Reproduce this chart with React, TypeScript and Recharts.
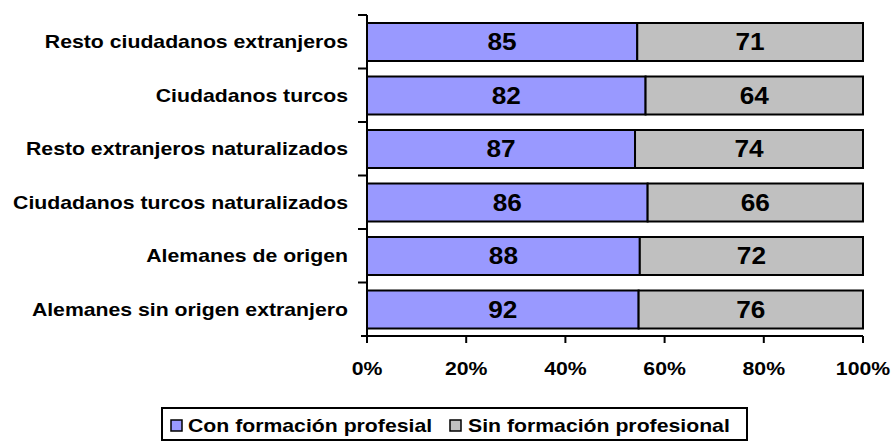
import React from 'react'
import {
  BarChart,
  Bar,
  XAxis,
  YAxis,
  Legend,
  LabelList,
} from 'recharts'

// categories, top to bottom
const categories = [
  'Resto ciudadanos extranjeros',
  'Ciudadanos turcos',
  'Resto extranjeros naturalizados',
  'Ciudadanos turcos naturalizados',
  'Alemanes de origen',
  'Alemanes sin origen extranjero',
]
const conFormacion = [85, 82, 87, 86, 88, 92]
const sinFormacion = [71, 64, 74, 66, 72, 76]
const pctTicks = [0, 0.2, 0.4, 0.6, 0.8, 1]

const seriesNames = {
  con: 'Con formación profesial',
  sin: 'Sin formación profesional',
}

const W = 892
const H = 442
const MARGIN = { top: 15, right: 29, left: 0, bottom: 66 }
const X_AXIS_H = 40
const Y_AXIS_W = 367
const FONT = 'Arial, "Liberation Sans", Helvetica, sans-serif'
const SX = 1.18 // the source text is a bit stretched horizontally

const data = categories.map((name, i) => ({
  name,
  con: conFormacion[i],
  sin: sinFormacion[i],
}))

const plotH = H - MARGIN.top - MARGIN.bottom - X_AXIS_H
const band = plotH / categories.length

const CategoryTick = (props: any) => {
  const { x, y, payload, index } = props
  const axisX = x + 19
  const half = band / 2
  return (
    <g>
      <line x1={axisX - 9} x2={axisX} y1={y - half} y2={y - half} stroke="#000" strokeWidth={2} />
      {index === categories.length - 1 && (
        <line x1={axisX - 6} x2={axisX} y1={y + half} y2={y + half} stroke="#000" strokeWidth={2} />
      )}
      <text
        transform={`translate(${x},${y}) scale(${SX},1)`}
        dy="0.36em"
        textAnchor="end"
        fontFamily={FONT}
        fontWeight="bold"
        fontSize={18}
        fill="#000"
      >
        {payload.value}
      </text>
    </g>
  )
}

const PctTick = (props: any) => {
  const { x, y, payload } = props
  return (
    <text
      transform={`translate(${x},${y + 32}) scale(${SX},1)`}
      textAnchor="middle"
      fontFamily={FONT}
      fontWeight="bold"
      fontSize={18}
      fill="#000"
    >
      {`${Math.round(payload.value * 100)}%`}
    </text>
  )
}

const BarValue = (props: any) => {
  const { x, y, width, height, value } = props
  const cx = x + width / 2
  const cy = y + height / 2
  return (
    <text
      transform={`translate(${cx},${cy}) scale(1.14,1)`}
      dy="0.36em"
      textAnchor="middle"
      fontFamily={FONT}
      fontWeight="bold"
      fontSize={23}
      fill="#000"
    >
      {value}
    </text>
  )
}

const LegendBox = (props: any) => {
  const items = props.payload || []
  const slots = [
    { sq: 10, tx: 27 },
    { sq: 289, tx: 307 },
  ]
  return (
    <svg width={587} height={34} style={{ display: 'block' }}>
      <rect x={1} y={1} width={585} height={32} fill="#fff" stroke="#000" strokeWidth={2} />
      {items.map((it: any, i: number) => (
        <g key={it.value}>
          <rect
            x={slots[i].sq}
            y={13}
            width={11}
            height={11}
            fill={it.color}
            stroke="#000"
            strokeWidth={1.5}
          />
          <text
            transform={`translate(${slots[i].tx},25) scale(${SX},1)`}
            fontFamily={FONT}
            fontWeight="bold"
            fontSize={18}
            fill="#000"
          >
            {it.value}
          </text>
        </g>
      ))}
    </svg>
  )
}

export default function App() {
  return (
    <div style={{ position: 'absolute', left: 0, top: 0, width: W, height: H, background: '#fff' }}>
      <BarChart
        width={W}
        height={H}
        data={data}
        layout="vertical"
        stackOffset="expand"
        margin={MARGIN}
        barSize={38}
      >
        <XAxis
          type="number"
          domain={[0, 1]}
          ticks={pctTicks}
          height={X_AXIS_H}
          tickSize={7}
          tickMargin={0}
          axisLine={{ stroke: '#000', strokeWidth: 2 }}
          tickLine={{ stroke: '#000', strokeWidth: 2 }}
          tick={<PctTick />}
          interval={0}
        />
        <YAxis
          type="category"
          dataKey="name"
          width={Y_AXIS_W}
          tickSize={8}
          tickMargin={11}
          axisLine={{ stroke: '#000', strokeWidth: 2 }}
          tickLine={false}
          tick={<CategoryTick />}
          interval={0}
        />
        <Legend
          layout="horizontal"
          verticalAlign="middle"
          align="center"
          content={<LegendBox />}
          wrapperStyle={{ left: 161, top: 407, width: 587, height: 34 }}
        />
        <Bar
          dataKey="con"
          name={seriesNames.con}
          stackId="a"
          fill="#9999FF"
          stroke="#000"
          strokeWidth={2}
          isAnimationActive={false}
        >
          <LabelList dataKey="con" content={<BarValue />} />
        </Bar>
        <Bar
          dataKey="sin"
          name={seriesNames.sin}
          stackId="a"
          fill="#C0C0C0"
          stroke="#000"
          strokeWidth={2}
          isAnimationActive={false}
        >
          <LabelList dataKey="sin" content={<BarValue />} />
        </Bar>
      </BarChart>
    </div>
  )
}
